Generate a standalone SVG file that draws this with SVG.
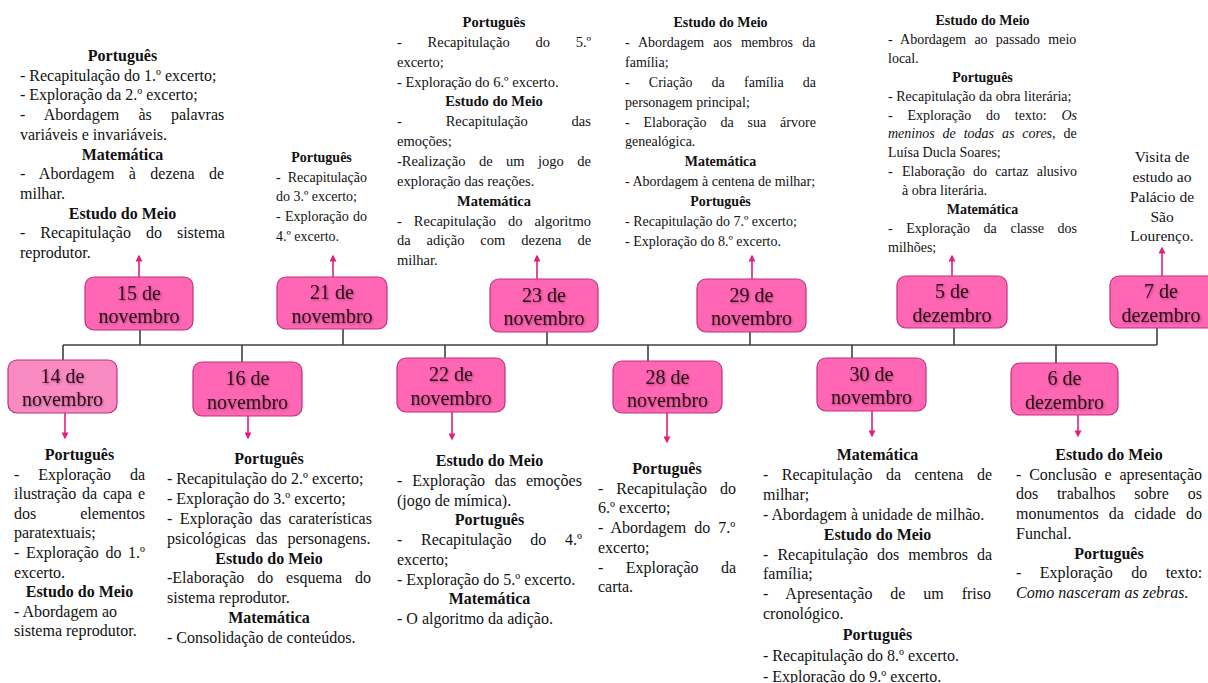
<svg xmlns="http://www.w3.org/2000/svg" width="1208" height="683" viewBox="0 0 1208 683">
<defs>
<marker id="ah" viewBox="0 0 10 10" refX="8" refY="5" markerWidth="7" markerHeight="7" markerUnits="userSpaceOnUse" orient="auto"><path d="M0,0 L10,5 L0,10 z" fill="#e0207f"/></marker>
<filter id="sh" x="-10%" y="-10%" width="130%" height="140%"><feDropShadow dx="1" dy="1.2" stdDeviation="0.8" flood-color="#000" flood-opacity="0.35"/></filter>
<style>
text{font-family:"Liberation Serif","Times New Roman",serif;fill:#111}
.h{font-weight:bold;text-anchor:middle}
.c{text-anchor:middle}
.i{font-style:italic}
.box{fill:#ff66b3;stroke:#c2307c;stroke-width:1.2}
.box2{fill:#f98ac2;stroke:#c2307c;stroke-width:1.2}
.bt{font-size:20px;text-anchor:middle;fill:#2a0a18;filter:url(#sh)}
.ln{stroke:#404040;stroke-width:1.6;fill:none}
.ar{stroke:#e0207f;stroke-width:1.6;fill:none;marker-end:url(#ah)}
</style>
</defs>
<rect width="1208" height="683" fill="#fff"/>

<g id="connectors">
<path class="ln" d="M63,345 H1157 M140,330 V345 M343,329 V345 M547,332 V345 M750,332 V345 M954,328 V345 M1157,328 V345 M63,345 V360 M242,345 V362 M445,345 V358 M648,345 V361 M852,345 V358 M1056,345 V363"/>
<path class="ar" d="M139,277 V256"/>
<path class="ar" d="M333,277 V256"/>
<path class="ar" d="M537,279 V256"/>
<path class="ar" d="M752,279 V256"/>
<path class="ar" d="M952,276 V256"/>
<path class="ar" d="M1162,276 V248"/>
<path class="ar" d="M65,413 V438"/>
<path class="ar" d="M248,416 V438"/>
<path class="ar" d="M452,412 V439"/>
<path class="ar" d="M667,413 V442"/>
<path class="ar" d="M872,411 V436"/>
<path class="ar" d="M1078,415 V436"/>
</g>

<g id="n15nov"><rect class="box" x="85" y="277" width="108" height="53" rx="9"/><text class="bt" x="139" y="299.5">15 de</text><text class="bt" x="139" y="323">novembro</text></g>
<g id="n21nov"><rect class="box" x="277" y="277" width="110" height="52" rx="9"/><text class="bt" x="332" y="299">21 de</text><text class="bt" x="332" y="322.5">novembro</text></g>
<g id="n23nov"><rect class="box" x="490" y="279" width="108" height="53" rx="9"/><text class="bt" x="544" y="301.5">23 de</text><text class="bt" x="544" y="325">novembro</text></g>
<g id="n29nov"><rect class="box" x="697" y="279" width="109" height="53" rx="9"/><text class="bt" x="751.5" y="301.5">29 de</text><text class="bt" x="751.5" y="325">novembro</text></g>
<g id="n5dez"><rect class="box" x="897" y="276" width="110" height="52" rx="9"/><text class="bt" x="952" y="298">5 de</text><text class="bt" x="952" y="321.5">dezembro</text></g>
<g id="n7dez"><rect class="box" x="1110" y="276" width="106" height="52" rx="9"/><text class="bt" x="1161" y="298">7 de</text><text class="bt" x="1161" y="321.5">dezembro</text></g>

<g id="n14nov"><rect class="box2" x="8" y="360" width="109" height="53" rx="9"/><text class="bt" x="62.5" y="382.5">14 de</text><text class="bt" x="62.5" y="406">novembro</text></g>
<g id="n16nov"><rect class="box" x="193" y="362" width="109" height="54" rx="9"/><text class="bt" x="247.5" y="384.5">16 de</text><text class="bt" x="247.5" y="408.5">novembro</text></g>
<g id="n22nov"><rect class="box" x="397" y="358" width="108" height="54" rx="9"/><text class="bt" x="451" y="380.5">22 de</text><text class="bt" x="451" y="404.5">novembro</text></g>
<g id="n28nov"><rect class="box" x="613" y="361" width="109" height="52" rx="9"/><text class="bt" x="667.5" y="383.5">28 de</text><text class="bt" x="667.5" y="407">novembro</text></g>
<g id="n30nov"><rect class="box" x="817" y="358" width="109" height="53" rx="9"/><text class="bt" x="871.5" y="380.5">30 de</text><text class="bt" x="871.5" y="404">novembro</text></g>
<g id="n6dez"><rect class="box" x="1011" y="363" width="107" height="52" rx="9"/><text class="bt" x="1064.5" y="385">6 de</text><text class="bt" x="1064.5" y="408.5">dezembro</text></g>

<g id="t15nov" font-size="16">
<text class="h" x="122.5" y="61">Português</text>
<text x="20" y="80.7">- Recapitulação do 1.º excerto;</text>
<text x="20" y="100.4">- Exploração da 2.º excerto;</text>
<text x="20" y="120.1" style="word-spacing:15.2px">- Abordagem às palavras</text>
<text x="20" y="139.8">variáveis e invariáveis.</text>
<text class="h" x="122.5" y="159.5">Matemática</text>
<text x="20" y="179.2" style="word-spacing:10.4px">- Abordagem à dezena de</text>
<text x="20" y="198.9">milhar.</text>
<text class="h" x="122.5" y="218.6">Estudo do Meio</text>
<text x="20" y="238.3" style="word-spacing:11px">- Recapitulação do sistema</text>
<text x="20" y="258">reprodutor.</text>
</g>

<g id="t21nov" font-size="14">
<text class="h" x="321.5" y="162">Português</text>
<text x="276" y="181.7" style="word-spacing:3.5px">- Recapitulação</text>
<text x="276" y="201.4">do 3.º excerto;</text>
<text x="276" y="221.1" style="word-spacing:0.8px">- Exploração do</text>
<text x="276" y="240.8">4.º excerto.</text>
</g>

<g id="t23nov" font-size="14.5">
<text class="h" x="494" y="27">Português</text>
<text x="397" y="46.85" style="word-spacing:22.1px">- Recapitulação do 5.º</text>
<text x="397" y="66.7">excerto;</text>
<text x="397" y="86.55">- Exploração do 6.º excerto.</text>
<text class="h" x="494" y="106.4">Estudo do Meio</text>
<text x="397" y="126.25" style="word-spacing:40.2px">- Recapitulação das</text>
<text x="397" y="146.1">emoções;</text>
<text x="397" y="165.95" style="word-spacing:9.85px">-Realização de um jogo de</text>
<text x="397" y="185.8">exploração das reações.</text>
<text class="h" x="494" y="205.65">Matemática</text>
<text x="397" y="225.5" style="word-spacing:8.4px">- Recapitulação do algoritmo</text>
<text x="397" y="245.35" style="word-spacing:12.3px">da adição com dezena de</text>
<text x="397" y="265.2">milhar.</text>
</g>

<g id="t29nov" font-size="14">
<text class="h" x="720.5" y="27">Estudo do Meio</text>
<text x="625" y="46.9" style="word-spacing:5.6px">- Abordagem aos membros da</text>
<text x="625" y="66.8">família;</text>
<text x="625" y="86.7" style="word-spacing:15.7px">- Criação da família da</text>
<text x="625" y="106.6">personagem principal;</text>
<text x="625" y="126.5" style="word-spacing:10.4px">- Elaboração da sua árvore</text>
<text x="625" y="146.4">genealógica.</text>
<text class="h" x="720.5" y="166.3">Matemática</text>
<text x="625" y="186.2">- Abordagem à centena de milhar;</text>
<text class="h" x="720.5" y="206.1">Português</text>
<text x="625" y="226">- Recapitulação do 7.º excerto;</text>
<text x="625" y="245.9">- Exploração do 8.º excerto.</text>
</g>

<g id="t5dez" font-size="14">
<text class="h" x="982.5" y="25">Estudo do Meio</text>
<text x="888" y="43.9" style="word-spacing:4.7px">- Abordagem ao passado meio</text>
<text x="888" y="62.8">local.</text>
<text class="h" x="982.5" y="81.7">Português</text>
<text x="888" y="100.6">- Recapitulação da obra literária;</text>
<text x="888" y="119.5" style="word-spacing:11.3px">- Exploração do texto: <tspan class="i">Os</tspan></text>
<text x="888" y="138.4" style="word-spacing:4.4px"><tspan class="i">meninos de todas as cores</tspan>, de</text>
<text x="888" y="157.3">Luísa Ducla Soares;</text>
<text x="888" y="176.2">-</text>
<text x="902" y="176.2" style="word-spacing:4.6px">Elaboração do cartaz alusivo</text>
<text x="902" y="195.1">à obra literária.</text>
<text class="h" x="982.5" y="214">Matemática</text>
<text x="888" y="232.9" style="word-spacing:10.1px">- Exploração da classe dos</text>
<text x="888" y="251.8">milhões;</text>
</g>

<g id="t7dez" font-size="15.5">
<text class="c" x="1162" y="162">Visita de</text>
<text class="c" x="1162" y="182">estudo ao</text>
<text class="c" x="1162" y="202">Palácio de</text>
<text class="c" x="1162" y="221.5">São</text>
<text class="c" x="1162" y="241">Lourenço.</text>
</g>

<g id="b14nov" font-size="16">
<text class="h" x="79.5" y="460">Português</text>
<text x="14" y="479.6" style="word-spacing:14.85px">- Exploração da</text>
<text x="14" y="499.2" style="word-spacing:1.8px">ilustração da capa e</text>
<text x="14" y="518.8" style="word-spacing:39.9px">dos elementos</text>
<text x="14" y="538.4">paratextuais;</text>
<text x="14" y="558" style="word-spacing:2.6px">- Exploração do 1.º</text>
<text x="14" y="577.6">excerto.</text>
<text class="h" x="79.5" y="597.2">Estudo do Meio</text>
<text x="14" y="616.8">- Abordagem ao</text>
<text x="14" y="636.4">sistema reprodutor.</text>
</g>

<g id="b16nov" font-size="16">
<text class="h" x="269" y="464">Português</text>
<text x="167" y="483.9">- Recapitulação do 2.º excerto;</text>
<text x="167" y="503.8">- Exploração do 3.º excerto;</text>
<text x="167" y="523.7" style="word-spacing:3.3px">- Exploração das caraterísticas</text>
<text x="167" y="543.6" style="word-spacing:6px">psicológicas das personagens.</text>
<text class="h" x="269" y="563.5">Estudo do Meio</text>
<text x="167" y="583.4" style="word-spacing:8.9px">-Elaboração do esquema do</text>
<text x="167" y="603.3">sistema reprodutor.</text>
<text class="h" x="269" y="623.2">Matemática</text>
<text x="167" y="643.1">- Consolidação de conteúdos.</text>
</g>

<g id="b22nov" font-size="16">
<text class="h" x="489.5" y="466">Estudo do Meio</text>
<text x="397" y="485.75" style="word-spacing:5.8px">- Exploração das emoções</text>
<text x="397" y="505.5">(jogo de mímica).</text>
<text class="h" x="489.5" y="525.25">Português</text>
<text x="397" y="545" style="word-spacing:14.7px">- Recapitulação do 4.º</text>
<text x="397" y="564.75">excerto;</text>
<text x="397" y="584.5">- Exploração do 5.º excerto.</text>
<text class="h" x="489.5" y="604.25">Matemática</text>
<text x="397" y="624">- O algoritmo da adição.</text>
</g>

<g id="b28nov" font-size="16">
<text class="h" x="667" y="474">Português</text>
<text x="598" y="493.7" style="word-spacing:9px">- Recapitulação do</text>
<text x="598" y="513.4">6.º excerto;</text>
<text x="598" y="533.1" style="word-spacing:4.1px">- Abordagem do 7.º</text>
<text x="598" y="552.8">excerto;</text>
<text x="598" y="572.5" style="word-spacing:18.35px">- Exploração da</text>
<text x="598" y="592.2">carta.</text>
</g>

<g id="b30nov" font-size="16">
<text class="h" x="877.5" y="460">Matemática</text>
<text x="763" y="479.9" style="word-spacing:9.5px">- Recapitulação da centena de</text>
<text x="763" y="499.8">milhar;</text>
<text x="763" y="519.7">- Abordagem à unidade de milhão.</text>
<text class="h" x="877.5" y="539.6">Estudo do Meio</text>
<text x="763" y="559.5" style="word-spacing:5.05px">- Recapitulação dos membros da</text>
<text x="763" y="579.4">família;</text>
<text x="763" y="599.3" style="word-spacing:13.9px">- Apresentação de um friso</text>
<text x="763" y="619.2">cronológico.</text>
<text class="h" x="877.5" y="640">Português</text>
<text x="763" y="661">- Recapitulação do 8.º excerto.</text>
<text x="763" y="682">- Exploração do 9.º excerto.</text>
</g>

<g id="b6dez" font-size="16">
<text class="h" x="1109" y="460">Estudo do Meio</text>
<text x="1016" y="479.7" style="word-spacing:3.8px">- Conclusão e apresentação</text>
<text x="1016" y="499.4" style="word-spacing:14.7px">dos trabalhos sobre os</text>
<text x="1016" y="519.1" style="word-spacing:6.2px">monumentos da cidade do</text>
<text x="1016" y="538.8">Funchal.</text>
<text class="h" x="1109" y="558.5">Português</text>
<text x="1016" y="578.2" style="word-spacing:14.5px">- Exploração do texto:</text>
<text class="i" x="1016" y="597.9">Como nasceram as zebras.</text>
</g>
</svg>
